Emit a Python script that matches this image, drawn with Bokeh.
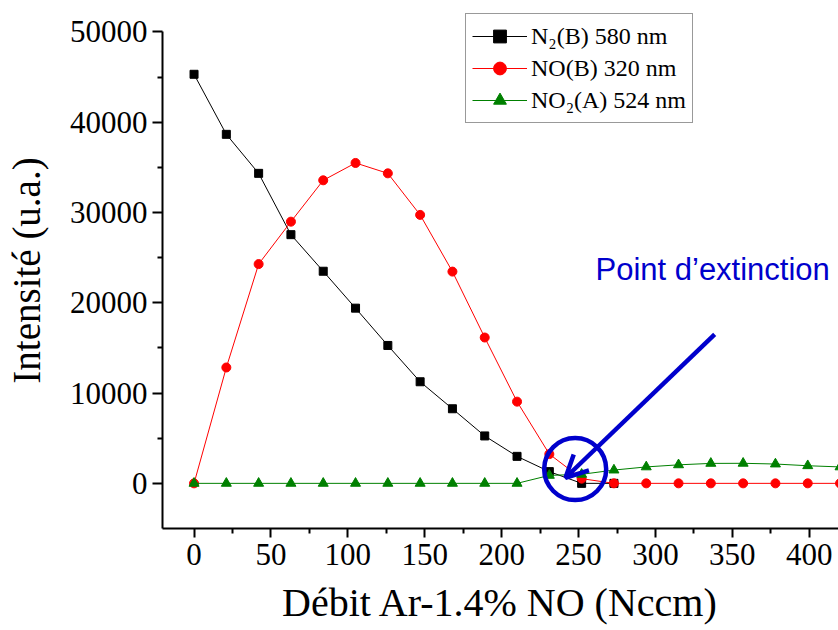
from bokeh.plotting import figure
from bokeh.models import FixedTicker, Range1d, Arrow, OpenHead, Label, Legend, LegendItem
from bokeh.embed import file_html
from bokeh.resources import INLINE

# ---- data ----
flow = [0, 21, 42, 63, 84, 105, 126, 147, 168, 189, 210, 231, 252, 273,
        294, 315, 336, 357, 378, 399, 420]
n2_flow = flow[:14]
n2_b = [45300, 38650, 34330, 27540, 23490, 19400, 15270, 11250, 8260, 5250,
        2990, 1300, 0, 0]
no_b = [0, 12830, 24280, 28980, 33560, 35480, 34330, 29730, 23450, 16150,
        9050, 3240, 520, 0, 0, 0, 0, 0, 0, 0, 0]
no2_a = [0, 0, 0, 0, 0, 0, 0, 0, 0, 0, 0, 880, 1000, 1470, 1820, 2050,
         2210, 2220, 2140, 1950, 1820]

x_major = [0, 50, 100, 150, 200, 250, 300, 350, 400]
x_minor = [25, 75, 125, 175, 225, 275, 325, 375]
y_major = [0, 10000, 20000, 30000, 40000, 50000]
y_minor = [5000, 15000, 25000, 35000, 45000]
y_axis_bounds = (-5000, 50000)

labels = ["N\u2082(B) 580 nm", "NO(B) 320 nm", "NO\u2082(A) 524 nm"]
annot_text = "Point d\u2019extinction"
extinction_pt = (247.8, 1580)
arrow_start = (338.5, 16500)
arrow_end = (241.5, 620)
annot_pos = (261, 23700)

SERIF = "Liberation Serif"
BLUE = "#0000CC"

p = figure(width=838, height=630, output_backend="svg", toolbar_location=None,
           x_range=Range1d(-20.5, 419), y_range=Range1d(-5000, 52143),
           min_border_left=162, min_border_right=0, min_border_top=12,
           min_border_bottom=102)
p.outline_line_color = None
p.grid.visible = False
p.background_fill_color = "white"
p.border_fill_color = "white"

p.xaxis.ticker = FixedTicker(ticks=x_major, minor_ticks=x_minor)
p.yaxis.ticker = FixedTicker(ticks=y_major, minor_ticks=y_minor)
p.yaxis.bounds = y_axis_bounds

for ax in (p.xaxis[0], p.yaxis[0]):
    ax.axis_line_width = 2
    ax.major_tick_line_width = 2
    ax.minor_tick_line_width = 2
    ax.major_tick_in = 0
    ax.minor_tick_in = 0
    ax.major_label_text_font = SERIF
    ax.major_label_text_font_size = "31px"
    ax.major_label_text_color = "black"
    ax.axis_label_text_font = SERIF
    ax.axis_label_text_font_style = "normal"
    ax.axis_label_text_color = "black"

p.xaxis.axis_label_text_font_size = "40px"
p.yaxis.axis_label_text_font_size = "39px"
p.xaxis.major_tick_out = 9
p.xaxis.minor_tick_out = 5
p.yaxis.major_tick_out = 10
p.yaxis.minor_tick_out = 5
p.xaxis.major_label_standoff = 6
p.yaxis.major_label_standoff = 5
p.xaxis.axis_label = "D\u00e9bit Ar-1.4% NO (Nccm)"
p.yaxis.axis_label = "Intensit\u00e9 (u.a.)"
p.xaxis.axis_label_standoff = 12
p.yaxis.axis_label_standoff = 19

l1 = p.line(n2_flow, n2_b, line_color="black", line_width=1)
m1 = p.scatter(n2_flow, n2_b, marker="square", size=8, fill_color="black",
               line_color="black")
l2 = p.line(flow, no_b, line_color="red", line_width=1)
m2 = p.scatter(flow, no_b, marker="circle", size=9, fill_color="red",
               line_color="red")
l3 = p.line(flow, no2_a, line_color="green", line_width=1)
m3 = p.scatter(flow, no2_a, marker="triangle", size=10, fill_color="green",
               line_color="green")

legend = Legend(items=[LegendItem(label=labels[0], renderers=[l1, m1]),
                       LegendItem(label=labels[1], renderers=[l2, m2]),
                       LegendItem(label=labels[2], renderers=[l3, m3])],
                location=(303, 405))
legend.label_text_font = SERIF
legend.label_text_font_size = "24px"
legend.label_text_color = "black"
legend.label_height = 32
legend.glyph_height = 32
legend.glyph_width = 55
legend.label_standoff = 4
legend.spacing = 0
legend.padding = 6
legend.margin = 0
legend.border_line_color = "#333333"
legend.border_line_width = 1.5
legend.background_fill_alpha = 1
p.add_layout(legend)

# annotation: circle, arrow, text
p.scatter([extinction_pt[0]], [extinction_pt[1]], marker="circle", size=62,
          fill_color=None, line_color=BLUE, line_width=4.5)
p.add_layout(Arrow(end=OpenHead(size=22, line_color=BLUE, line_width=4.5),
                   x_start=arrow_start[0], y_start=arrow_start[1],
                   x_end=arrow_end[0], y_end=arrow_end[1],
                   line_color=BLUE, line_width=4.5))
p.add_layout(Label(x=annot_pos[0], y=annot_pos[1], text=annot_text,
                   text_font="Liberation Sans", text_font_size="31px",
                   text_color=BLUE, text_baseline="middle"))

open("out.html", "w").write(file_html(p, INLINE))
